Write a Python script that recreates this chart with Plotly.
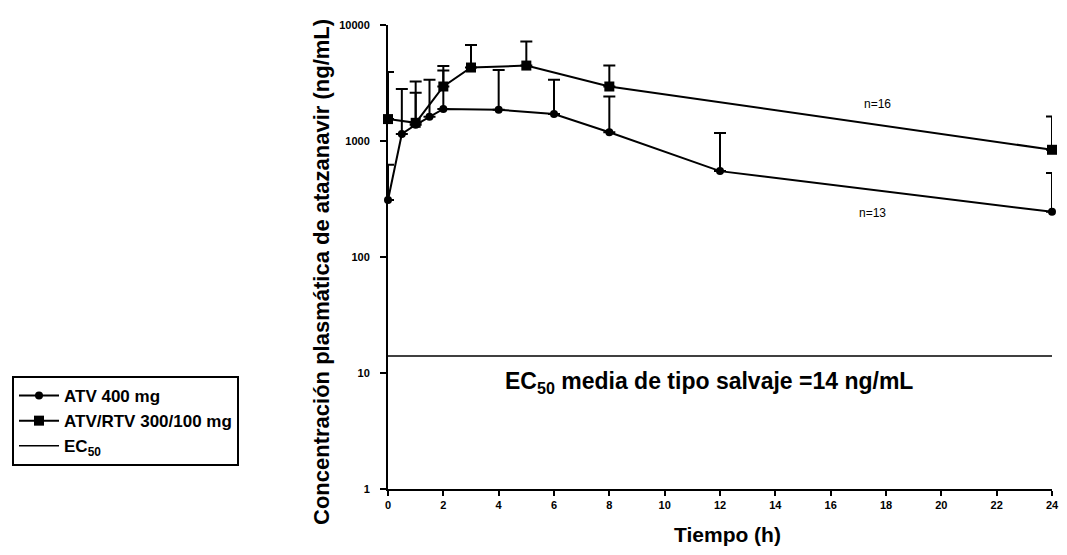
import plotly.graph_objects as go

# ---- data ----
time_atv = [0, 0.5, 1, 1.5, 2, 4, 6, 8, 12, 24]
conc_atv = [310, 1150, 1380, 1620, 1890, 1860, 1710, 1190, 550, 245]
sd_atv = [315, 1660, 1220, 1750, 2170, 2240, 1660, 1225, 620, 285]

time_rtv = [0, 1, 2, 3, 5, 8, 24]
conc_rtv = [1545, 1435, 2950, 4300, 4470, 2950, 840]
sd_rtv = [2390, 1815, 1490, 2430, 2730, 1520, 785]

ec50_time = [0, 24]
ec50_value = 14

x_ticks = list(range(0, 25, 2))
y_ticks = [1, 10, 100, 1000, 10000]
y_tick_labels = ["1", "10", "100", "1000", "10000"]

FONT = "Liberation Sans, Arial, sans-serif"

# page body has an 8px margin on every side; keep the figure inside the window
OFF = 8
FIG_W, FIG_H = 1067 - 2 * OFF, 555 - 2 * OFF
PLOT_L, PLOT_T, PLOT_R, PLOT_B = 388, 25, 1052, 489   # page pixels
PLOT_W, PLOT_H = PLOT_R - PLOT_L, PLOT_B - PLOT_T

fig = go.Figure()

fig.add_trace(go.Scatter(
    x=time_atv, y=conc_atv, name="ATV 400 mg", legendgroup="a",
    mode="lines+markers",
    line=dict(color="black", width=2),
    marker=dict(symbol="circle", size=8, color="black"),
    error_y=dict(type="data", symmetric=False, array=sd_atv,
                 arrayminus=[0] * len(sd_atv), color="black",
                 thickness=2, width=6),
    cliponaxis=False,
))

fig.add_trace(go.Scatter(
    x=time_rtv, y=conc_rtv, name="ATV/RTV 300/100 mg", legendgroup="b",
    mode="lines+markers",
    line=dict(color="black", width=2),
    marker=dict(symbol="square", size=10, color="black"),
    error_y=dict(type="data", symmetric=False, array=sd_rtv,
                 arrayminus=[0] * len(sd_rtv), color="black",
                 thickness=2, width=6),
    cliponaxis=False,
))

fig.add_trace(go.Scatter(
    x=ec50_time, y=[ec50_value] * len(ec50_time), name="EC<sub>50</sub>",
    legendgroup="c",
    mode="lines",
    line=dict(color="black", width=1.5),
    cliponaxis=False,
))

def px_x(p):
    return (p - PLOT_L) / PLOT_W

def px_y(p):
    return (PLOT_B - p) / PLOT_H

fig.update_layout(
    width=FIG_W, height=FIG_H,
    margin=dict(l=PLOT_L - OFF, r=FIG_W + OFF - PLOT_R,
                t=PLOT_T - OFF, b=FIG_H + OFF - PLOT_B, autoexpand=False),
    paper_bgcolor="white", plot_bgcolor="white",
    font=dict(family=FONT, color="black"),
    showlegend=True,
    legend=dict(
        x=px_x(12), y=px_y(376), xanchor="left", yanchor="top",
        bordercolor="black", borderwidth=2,
        font=dict(family=FONT, size=17, color="black", weight="bold"),
        itemwidth=40, tracegroupgap=0,
        bgcolor="white",
    ),
    xaxis=dict(
        range=[0, 24], tickmode="array", tickvals=x_ticks,
        showline=True, linecolor="black", linewidth=2,
        ticks="outside", ticklen=5, tickwidth=1.5, tickcolor="black",
        showgrid=False, zeroline=False, ticklabeloverflow="allow",
        automargin=False,
        tickfont=dict(family=FONT, size=11, color="black", weight="bold"),
    ),
    yaxis=dict(
        type="log", range=[0, 4], tickmode="array",
        tickvals=y_ticks, ticktext=y_tick_labels,
        showline=True, linecolor="black", linewidth=2,
        ticks="outside", ticklen=6, tickwidth=1.5, tickcolor="black",
        showgrid=False, zeroline=False, automargin=False,
        ticklabelstandoff=8,
        tickfont=dict(family=FONT, size=11, color="black", weight="bold"),
    ),
    annotations=[
        dict(text="Concentración plasmática de atazanavir (ng/mL)",
             xref="paper", yref="paper", x=px_x(321), y=px_y(272),
             xanchor="center", yanchor="middle", textangle=-90,
             showarrow=False,
             font=dict(family=FONT, size=22, color="black", weight="bold")),
        dict(text="Tiempo (h)",
             xref="paper", yref="paper", x=px_x(727), y=px_y(534),
             xanchor="center", yanchor="middle", showarrow=False,
             font=dict(family=FONT, size=21, color="black", weight="bold")),
        dict(text="EC<sub>50</sub> media de tipo salvaje =14 ng/mL",
             xref="x", yref="y", x=11.6, y=0.92,
             xanchor="center", yanchor="middle", showarrow=False,
             font=dict(family=FONT, size=23, color="black", weight="bold")),
        dict(text="n=16", xref="x", yref="y", x=17.7, y=3.32,
             showarrow=False, xanchor="center", yanchor="middle",
             font=dict(family=FONT, size=12, color="black")),
        dict(text="n=13", xref="x", yref="y", x=17.5, y=2.383,
             showarrow=False, xanchor="center", yanchor="middle",
             font=dict(family=FONT, size=12, color="black")),
    ],
)

fig.write_html("out.html")
